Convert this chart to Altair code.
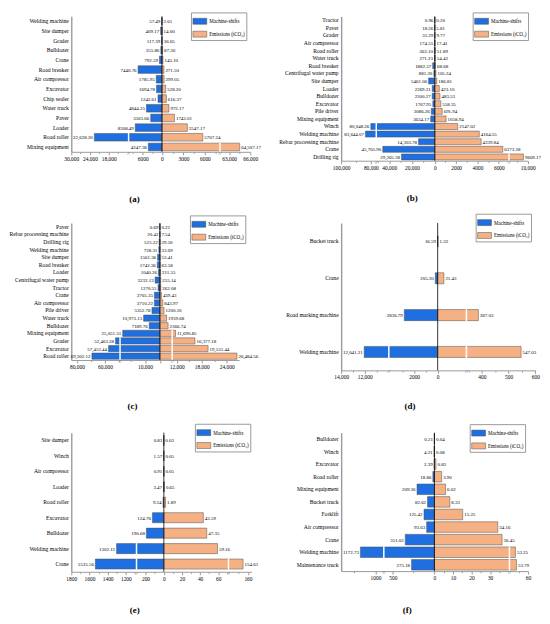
import json
import altair as alt
import pandas as pd

FONT = "Liberation Serif"
SERIES = ["Machine-shifts", "Emissions (tCO₂)"]
COLORS = ["#1f6fe0", "#f5b183"]
BAR_PATH = "M-1,-0.43L1,-0.43L1,0.43L-1,0.43Z"

# ---------------- data ----------------
cats_a = ["Welding machine", "Site dumper", "Grader", "Bulldozer", "Crane", "Road breaker",
          "Air compressor", "Excavator", "Chip sealer", "Water truck", "Paver", "Loader",
          "Road roller", "Mixing equipment"]
shifts_a = [57.49, 409.17, 117.39, 355.80, 792.59, 7440.76, 1785.95, 1694.78, 1243.61,
            4844.25, 3503.66, 8308.49, 22628.20, 4247.38]
emis_a = [2.61, 14.00, 36.65, 87.30, 145.10, 271.50, 299.05, 528.20, 616.37, 972.17,
          1743.01, 3547.17, 5707.24, 64507.17]

cats_b = ["Tractor", "Paver", "Grader", "Air compressor", "Road roller", "Water truck",
          "Road breaker", "Centrifugal water pump", "Site dumper", "Loader", "Bulldozer",
          "Excavator", "Pile driver", "Mixing equipment", "Winch", "Welding machine",
          "Rebar processing machine", "Crane", "Drilling rig"]
shifts_b = [0.96, 18.26, 31.29, 174.55, 363.10, 271.23, 1882.37, 881.20, 5461.06, 2269.31,
            2300.27, 1767.95, 3086.26, 3634.17, 80048.26, 83644.07, 14303.78, 45705.90,
            29265.38]
emis_b = [0.20, 5.81, 9.77, 17.41, 51.89, 54.42, 68.68, 105.24, 186.81, 423.10, 483.53,
          558.35, 691.94, 1058.94, 2147.02, 4164.55, 4339.84, 6373.28, 9609.17]

cats_c = ["Paver", "Rebar processing machine", "Drilling rig", "Welding machine",
          "Site dumper", "Road breaker", "Loader", "Centrifugal water pump", "Tractor",
          "Crane", "Air compressor", "Pile driver", "Water truck", "Bulldozer",
          "Mixing equipment", "Grader", "Excavator", "Road roller"]
shifts_c = [0.69, 20.42, 523.22, 728.31, 1561.36, 1742.36, 1040.26, 3232.13, 1270.55,
            3705.35, 3710.22, 5352.78, 10973.13, 7189.76, 25051.31, 52463.28, 57452.44,
            69302.12]
emis_c = [0.22, 7.54, 29.50, 33.09, 53.41, 63.58, 211.55, 255.14, 262.08, 439.43, 843.97,
          1200.10, 1939.68, 2366.74, 11690.85, 16377.18, 19531.44, 26484.56]

cats_d = ["Bucket truck", "Crane", "Road marking machine", "Welding machine"]
shifts_d = [16.59, 205.30, 2836.79, 12041.21]
emis_d = [1.32, 21.43, 387.03, 547.03]

cats_e = ["Site dumper", "Winch", "Air compressor", "Loader", "Road roller", "Excavator",
          "Bulldozer", "Welding machine", "Crane"]
shifts_e = [0.83, 1.57, 0.91, 3.47, 9.24, 124.76, 190.68, 1302.12, 1535.56]
emis_e = [0.03, 0.05, 0.05, 0.65, 1.89, 43.59, 47.35, 59.16, 154.61]

cats_f = ["Bulldozer", "Winch", "Excavator", "Road roller", "Mixing equipment",
          "Bucket truck", "Forklift", "Air compressor", "Crane", "Welding machine",
          "Maintenance truck"]
shifts_f = [0.21, 4.21, 2.39, 18.86, 209.36, 82.62, 125.42, 93.63, 351.02, 1172.73, 275.18]
emis_f = [0.04, 0.08, 0.83, 3.90, 6.02, 8.33, 15.25, 34.16, 36.45, 53.25, 53.79]

# axis breaks (left lo/hi, right lo/hi), axis ends, tick values (machine-shifts negative)
brk_a = ((10150, 11900), (8000, 61800)); ends_a = (30000, 66000)
maj_a = [-30000, -24000, -18000, -6000, 0, 3000, 6000, 63000, 66000]
min_a = [-27000, -21000, -15000, -9000, -3000, 1500, 4500, 7500, 64500]

brk_b = ((51000, 76700), (6900, 8300)); ends_b = (100000, 10000)
maj_b = [-100000, -80000, -40000, -20000, 0, 2000, 4000, 6000, 10000]
min_b = [-90000, -50000, -30000, -10000, 1000, 3000, 5000, 9000]

brk_c = ((26500, 49600), (3400, 11000)); ends_c = (84000, 27000)
maj_c = [-80000, -60000, -10000, 0, 12000, 18000, 24000]
lab_c = [-80000, -60000, -10000, 12000, 18000, 24000]
min_c = [-70000, -50000, -20000, 15000, 21000]

brk_d = ((4100, 10000), (96, 345)); ends_d = (14000, 600)
maj_d = [-14000, -12000, -2000, 0, 400, 500, 600]
min_d = [-13000, -11000, -3000, -1000, 350, 450, 550]

brk_e = ((290, 1091), (70.5, 139.3)); ends_e = (1800, 164)
maj_e = [-1800, -1600, -1400, -1200, -200, 0, 20, 40, 60, 160]
min_e = [-1700, -1500, -1300, -1100, -100, 10, 30, 50, 70, 150]

brk_f = ((600, 912), (40, 50.4)); ends_f = (1394, 60)
maj_f = [-1000, -500, 0, 10, 20, 30, 60]
min_f = [-1250, -250, 5, 15, 25, 35, 55]


def fmt(v):
    return f"{v:,.2f}" if v >= 10000 else f"{v:.2f}"


def panel(cats, shifts, emis, brk, ends, majors, minors, labels, rng, height, pi,
          legend_xy, caption, cap_dx, cap_off):
    n = len(cats)
    rows = []
    for c, s, e in zip(cats, shifts, emis):
        rows.append({"cat": c, "series": SERIES[0], "v": -s, "lab": fmt(s)})
        rows.append({"cat": c, "series": SERIES[1], "v": e, "lab": fmt(e)})
    df = pd.DataFrame(rows)
    (llo, lhi), (rlo, rhi) = brk
    gaps = []
    for c, s, e in zip(cats, shifts, emis):
        if s > llo:
            gaps.append({"cat": c, "v": -(llo + lhi) / 2})
        if e > rlo:
            gaps.append({"cat": c, "v": (rlo + rhi) / 2})
    gdf = pd.DataFrame(gaps)
    bdf = pd.DataFrame({"v": [-(llo + lhi) / 2, (rlo + rhi) / 2]})
    dom = [-ends[0], -lhi, -llo, 0, rlo, rhi, ends[1]]
    width = rng[-1]
    step = height / n
    barh = step * (1 - pi)

    ticks = sorted(set(majors + minors))
    maj_js = json.dumps(majors)
    lab_js = json.dumps(labels)
    xaxis = alt.Axis(
        title=None, grid=False, values=ticks, tickCount=100,
        labelExpr=(f"indexof({lab_js}, datum.value) >= 0 ? "
                   "(abs(datum.value) >= 10000 ? format(abs(datum.value), ',') : "
                   "format(abs(datum.value), 'd')) : ''"),
        tickSize={"condition": {"test": f"indexof({maj_js}, datum.value) >= 0",
                                "value": 3}, "value": 1.6},
        tickColor="#555555", tickWidth=0.6,
        domainColor="#9a9a9a", domainWidth=1,
        labelFont=FONT, labelFontSize=5.5, labelColor="black", labelPadding=1.5,
        labelOverlap=False, labelFlush=False,
    )
    yaxis = alt.Axis(
        title=None, ticks=False, labelFont=FONT, labelFontSize=5.7, labelColor="black",
        labelPadding=3, domainColor="#9a9a9a", domainWidth=1.4, labelLimit=300,
    )
    legend = alt.Legend(
        title=None, orient="none", legendX=legend_xy[0], legendY=legend_xy[1],
        symbolType=BAR_PATH, symbolSize=196, symbolStrokeColor="#4d4d4d",
        symbolStrokeWidth=0.5, labelFont=FONT, labelFontSize=5.1, labelColor="black",
        labelOffset=2, padding=1.5, rowPadding=1, strokeColor="#9a9a9a",
        fillColor="white",
    )
    base = alt.Chart(df).encode(
        x=alt.X("v:Q", stack=None,
                scale=alt.Scale(domain=dom, range=rng, nice=False, zero=False),
                axis=xaxis),
        y=alt.Y("cat:N", sort=cats,
                scale=alt.Scale(paddingInner=pi, paddingOuter=pi / 2), axis=yaxis),
    )
    bars = base.mark_bar(stroke="#4d4d4d", strokeWidth=0.5).encode(
        color=alt.Color("series:N", scale=alt.Scale(domain=SERIES, range=COLORS),
                        legend=legend)
    )
    tl = base.mark_text(align="right", dx=-1.5, font=FONT, fontSize=5,
                        color="black").encode(text="lab:N").transform_filter("datum.v < 0")
    tr = base.mark_text(align="left", dx=1.5, font=FONT, fontSize=5,
                        color="black").encode(text="lab:N").transform_filter("datum.v >= 0")
    gap = alt.Chart(gdf).mark_tick(color="white", thickness=1.5, size=barh + 1,
                                   opacity=1).encode(
        x="v:Q", y=alt.Y("cat:N", sort=cats))
    zero = alt.Chart(pd.DataFrame({"v": [0]})).mark_rule(
        color="black", strokeWidth=0.8).encode(x="v:Q")
    bmark = alt.Chart(bdf).mark_text(text="//", font=FONT, fontSize=5, color="#444444",
                                     dy=1).encode(x="v:Q", y=alt.value(height))
    return alt.layer(bars, gap, zero, tl, tr, bmark).properties(
        width=width, height=height,
        title=alt.TitleParams(caption, orient="bottom", anchor="middle", frame="group",
                              dx=cap_dx, offset=cap_off, font=FONT, fontSize=9,
                              fontWeight="bold", color="black"),
    )


pa = panel(cats_a, shifts_a, emis_a, brk_a, ends_a, maj_a, min_a, maj_a,
           [0, 57.2, 58.7, 91.7, 149.6, 151.1, 180.9], 137, 0.21, (121, -4),
           "(a)", -26.5, 33.5)
pb = panel(cats_b, shifts_b, emis_b, brk_b, ends_b, maj_b, min_b, maj_b,
           [0, 35, 36, 94.7, 169.2, 170.2, 188.6], 146, 0.21, (133, -4),
           "(b)", -22.5, 23.5)
pc = panel(cats_c, shifts_c, emis_c, brk_c, ends_c, maj_c, min_c, lab_c,
           [0, 48.8, 49.8, 89.6, 101.5, 102.5, 169.7], 138.5, 0.18, (120, -7.7),
           "(c)", -23, 33)
pd_ = panel(cats_d, shifts_d, emis_d, brk_d, ends_d, maj_d, min_d, maj_d,
            [0, 47.6, 48.8, 97.6, 125.9, 127.4, 196.3], 149, 0.7, (136, -9.4),
            "(d)", -28.6, 22.5)
pe = panel(cats_e, shifts_e, emis_e, brk_e, ends_e, maj_e, min_e, maj_e,
           [0, 65.2, 66.7, 93.6, 158.2, 159.7, 182.3], 140.7, 0.35, (125, -9),
           "(e)", -27, 25)
pf = panel(cats_f, shifts_f, emis_f, brk_f, ends_f, maj_f, min_f, maj_f,
           [0, 42.4, 43.9, 94.3, 169.4, 170.9, 188.9], 140, 0.16, (130, -8.6),
           "(f)", -27.6, 25)

X0 = 71

chart = alt.concat(
    pa, pb, pc, pd_, pe, pf, columns=2,
    spacing={"row": 63, "column": 343.2 - X0 - 182.3},
    bounds="flush", align="each",
).resolve_scale(
    color="independent", x="independent", y="independent"
).resolve_legend(color="independent").properties(
    padding={"left": 0, "top": 0, "right": 0, "bottom": 0}
).configure_view(stroke=None).configure_axis(labelOverlap=False, labelFlush=False)

chart.save("out.html", embed_options={"renderer": "svg", "actions": False})
